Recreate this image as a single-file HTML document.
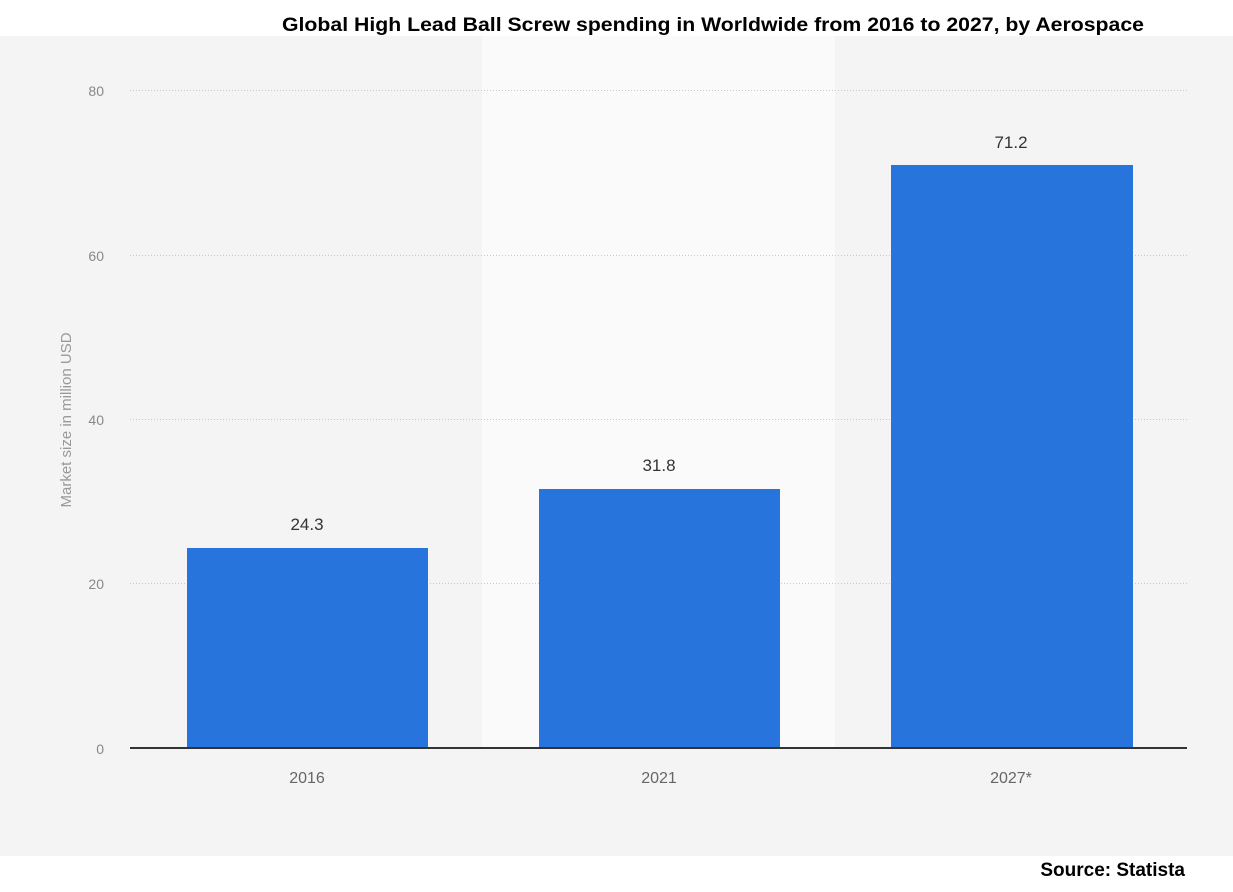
<!DOCTYPE html>
<html><head><style>
body{margin:0;background:#fff;}
svg{display:block}
</style></head><body>
<svg width="1233" height="892" xmlns="http://www.w3.org/2000/svg">
<rect x="0" y="0" width="1233" height="892" fill="#fff"/>
<rect x="0" y="36" width="1233" height="820" fill="#f4f4f4"/>
<rect x="482" y="36" width="353" height="712" fill="#fafafa"/>
<text x="713" y="31" font-family="Liberation Sans, sans-serif" font-weight="bold" font-size="19" text-anchor="middle" fill="#000" textLength="862" lengthAdjust="spacingAndGlyphs">Global High Lead Ball Screw spending in Worldwide from 2016 to 2027, by Aerospace</text>
<g stroke="#c8c8c8" stroke-width="1" stroke-dasharray="1,2">
<line x1="130" y1="90.5" x2="1188" y2="90.5"/>
<line x1="130" y1="255.5" x2="1188" y2="255.5"/>
<line x1="130" y1="419.5" x2="1188" y2="419.5"/>
<line x1="130" y1="583.5" x2="1188" y2="583.5"/>
</g>
<g font-family="Liberation Sans, sans-serif" font-size="14" fill="#888" text-anchor="end">
<text x="104" y="96">80</text>
<text x="104" y="261">60</text>
<text x="104" y="425">40</text>
<text x="104" y="589">20</text>
<text x="104" y="754">0</text>
</g>
<text transform="translate(71,420) rotate(-90)" font-family="Liberation Sans, sans-serif" font-size="15" fill="#999" text-anchor="middle">Market size in million USD</text>
<g fill="#2775dc">
<rect x="187" y="548" width="241" height="200"/>
<rect x="539" y="489" width="241" height="259"/>
<rect x="891" y="165" width="242" height="583"/>
</g>
<line x1="130" y1="748" x2="1187" y2="748" stroke="#333" stroke-width="2"/>
<g font-family="Liberation Sans, sans-serif" font-size="17" fill="#333" text-anchor="middle">
<text x="307" y="530">24.3</text>
<text x="659" y="471">31.8</text>
<text x="1011" y="148">71.2</text>
</g>
<g font-family="Liberation Sans, sans-serif" font-size="16" fill="#666" text-anchor="middle">
<text x="307" y="783">2016</text>
<text x="659" y="783">2021</text>
<text x="1011" y="783">2027*</text>
</g>
<text x="1185" y="876" font-family="Liberation Sans, sans-serif" font-weight="bold" font-size="19" text-anchor="end" fill="#000">Source: Statista</text>
</svg>
</body></html>
